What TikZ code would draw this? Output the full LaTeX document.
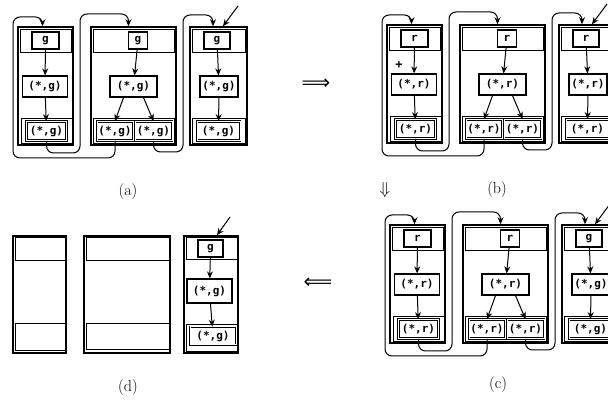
\documentclass[tikz,border=0pt]{standalone}
\usepackage{fontspec}
\usepackage{amssymb}
\newfontfamily\boxfont{DejaVu Sans Mono}
\newfontfamily\arrfont{DejaVu Sans}
\usetikzlibrary{calc,arrows.meta}
\tikzset{
  colbox/.style={draw, line width=1.6pt, inner sep=0pt},
  cell/.style={draw, line width=0.8pt},
  nd/.style={draw, line width=1.2pt, inner sep=0pt, font=\boxfont\bfseries\fontsize{11}{11}\selectfont},
  topn/.style={nd, minimum height=17pt},
  midn/.style={nd, minimum height=21pt},
  botn/.style={nd, minimum height=19pt, double, double distance=1pt, line width=0.7pt},
  link/.style={line width=1pt, rounded corners=7pt, -{Stealth[length=7pt,width=6pt]}},
  ptr/.style={line width=1pt, -{Stealth[length=7pt,width=6pt]}},
  lbl/.style={font=\fontsize{16}{16}\selectfont},
  bigarr/.style={font=\arrfont\fontsize{20}{20}\selectfont, inner sep=0pt}
}
\newcommand\ListPanel[6]{%
\begin{scope}[shift={#1}]
  \node[colbox, minimum width=55pt, minimum height=118pt] (#2C1) at (27.5,59) {};
  \node[colbox, minimum width=85pt, minimum height=118pt] (#2C2) at (115.5,59) {};
  \node[colbox, minimum width=57pt, minimum height=118pt] (#2C3) at (200.5,59) {};
  \draw[cell] (2,2) rectangle (53,25);
  \draw[cell] (75,2) rectangle (156,25);
  \draw[cell] (174,2) rectangle (227,25);
  \draw[cell] (3,91) rectangle (54,116);
  \draw[cell] (75,91) rectangle (156,116);
  \draw[cell] (174,91) rectangle (227,116);
  \node[topn, minimum width=27pt] (#2c1t) at (27.5,13.5) {#3};
  \node[midn, minimum width=45pt] (#2c1m) at (27,59.5) {(*,#3)};
  \node[botn, minimum width=40pt] (#2c1b) at (28.5,104) {(*,#3)};
  \node[topn, minimum width=19pt] (#2c2t) at (120,13.5) {#4};
  \node[midn, minimum width=47pt] (#2c2m) at (115.5,59.5) {(*,#4)};
  \node[botn, minimum width=36pt] (#2c2L) at (97,104) {(*,#4)};
  \node[botn, minimum width=37pt] (#2c2R) at (135.5,104) {(*,#4)};
  \node[topn, minimum width=26pt] (#2c3t) at (199,13.5) {#5};
  \node[midn, minimum width=38pt] (#2c3m) at (201,59.5) {(*,#5)};
  \node[botn, minimum width=43pt] (#2c3b) at (200.5,104) {(*,#5)};
  \draw[ptr] (#2c1t) -- (#2c1m);
  \draw[ptr] (#2c1m) -- (#2c1b);
  \draw[ptr] (#2c2t) -- (#2c2m);
  \draw[ptr] ($(#2c2m.south)+(-10,0)$) -- (#2c2L.north);
  \draw[ptr] ($(#2c2m.south)+(10,0)$) -- (#2c2R.north);
  \draw[ptr] (#2c3t) -- (#2c3m);
  \draw[ptr] (#2c3m) -- (#2c3b);
  \coordinate (#2in1) at ($(#2C1.north)+(-3,0)$);
  \coordinate (#2in2) at ($(#2C2.north)+(-5,0)$);
  \coordinate (#2in3) at ($(#2C3.north)+(-5.5,0)$);
  \coordinate (#2in3b) at ($(#2C3.north)+(4.5,0)$);
  \coordinate (#2ext) at (220,-21);
  \draw[link] (#2c1b.south) -- (28.5,126) -- (62,126) -- (62,-13) -- (#2in2 |- 0,-13) -- (#2in2);
  \draw[link] (#2c2L.south) -- (97,131) -- (-5,131) -- (-5,-10) -- (#2in1 |- 0,-10) -- (#2in1);
  \draw[link] (#2c2R.south) -- (135.5,125) -- (165,125) -- (165,-12) -- (#2in3 |- 0,-12) -- (#2in3);
  \draw[ptr] (#2ext) -- (#2in3b);
  #6
\end{scope}}
\begin{document}
\begin{tikzpicture}[x=1pt,y=-1pt]
\clip (0,0) rectangle (608,403);
\fill[white] (0,0) rectangle (608,403);
% (a)
\ListPanel{(18,27)}{A}{g}{g}{g}{}
% (b)
\ListPanel{(387,25)}{B}{r}{r}{r}{\node[font=\boxfont\bfseries\fontsize{12}{12}\selectfont] (Bplus) at (12,40) {+};}
% (c)
\ListPanel{(390,225)}{C}{r}{r}{g}{}
% (d)
\begin{scope}[shift={(13,236)}]
  \node[colbox, minimum width=53pt, minimum height=117pt] (DC1) at (26.5,58.5) {};
  \node[colbox, minimum width=86pt, minimum height=117pt] (DC2) at (114,58.5) {};
  \node[colbox, minimum width=54pt, minimum height=117pt] (DC3) at (198,58.5) {};
  \draw[cell, line width=1pt] (2,1.5) rectangle (52,25);
  \draw[cell, line width=1pt] (73,1.5) rectangle (156,25);
  \draw[cell] (173,1.5) rectangle (224,23);
  \draw[cell, line width=1pt] (2,88) rectangle (52,115);
  \draw[cell, line width=1pt] (73,88) rectangle (156,114);
  \draw[cell] (173,88) rectangle (224,115);
  \node[topn, minimum width=25pt] (Dt) at (197.5,12.5) {g};
  \node[midn, minimum width=45pt, minimum height=24pt] (Dm) at (196.5,55) {(*,g)};
  \node[botn, minimum width=46pt, minimum height=18pt] (Db) at (200,100) {(*,g)};
  \draw[ptr] (Dt) -- (Dm);
  \draw[ptr] (Dm) -- (Db);
  \coordinate (Dext) at (217,-19);
  \coordinate (Din) at ($(DC3.north)+(6,0)$);
  \draw[ptr] (Dext) -- (Din);
\end{scope}
% transitions
\node[bigarr] (ra) at (316,84) {⟹};
\node[lbl] (da) at (385,190) {$\Downarrow$};
\node[bigarr] (la) at (318,283) {⟸};
% labels
\node[lbl] (La) at (128,192) {(a)};
\node[lbl] (Lb) at (497,190) {(b)};
\node[lbl] (Lc) at (498,385) {(c)};
\node[lbl] (Ld) at (128,388) {(d)};
\end{tikzpicture}
\end{document}
